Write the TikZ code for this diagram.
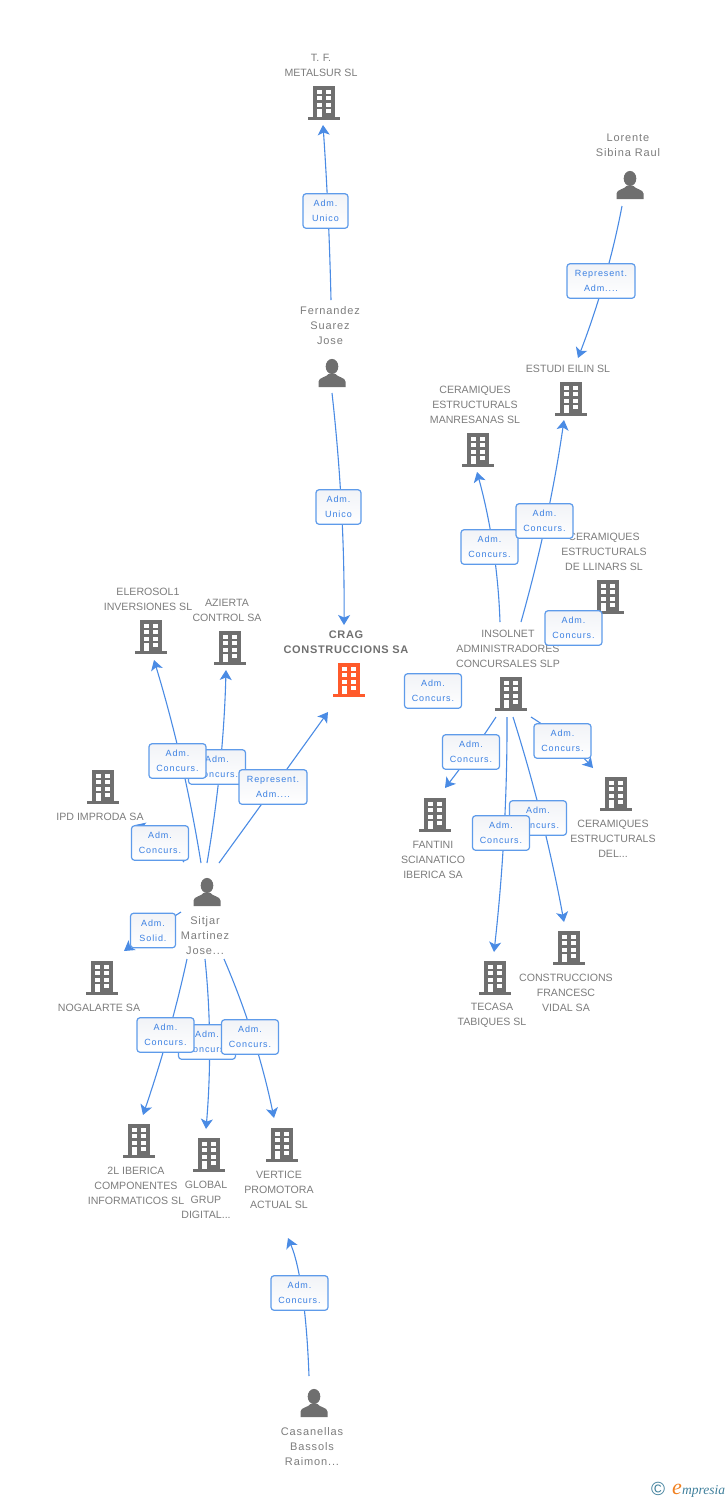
\documentclass[tikz,border=0pt]{standalone}
\usepackage{fontspec}
\setmainfont{Liberation Sans}
\newfontfamily\boxfont[LetterSpace=10]{Liberation Sans}
\newfontfamily\personfont[LetterSpace=8]{Liberation Sans}
\newfontfamily\boldfont[LetterSpace=6]{Liberation Sans Bold}
\newfontfamily\logofont{Liberation Serif Italic}
\usetikzlibrary{arrows.meta,calc}
\definecolor{linkblue}{HTML}{4A8BE4}
\definecolor{boxblue}{HTML}{5E9BEA}
\definecolor{boxtext}{HTML}{3B80E2}
\definecolor{namegray}{HTML}{7C7C7C}
\definecolor{icongray}{HTML}{6F6F6F}
\definecolor{mainorange}{HTML}{FF5A2B}
\definecolor{boxgrad}{HTML}{F1F3F7}
\definecolor{logoblue}{HTML}{3F7F9B}
\definecolor{logoorange}{HTML}{F08020}
\tikzset{
  entity/.style={inner sep=0pt,minimum width=30pt,minimum height=30pt},
  namelabel/.style={inner sep=0pt,yshift=-0.8pt,align=center,text=namegray,font=\fontsize{10.6}{15}\selectfont},
  personlabel/.style={inner sep=0pt,yshift=-0.8pt,align=center,text=namegray,font=\personfont\fontsize{11}{15}\selectfont},
  mainlabel/.style={inner sep=0pt,yshift=-0.5pt,align=center,text=namegray!90!black,font=\boldfont\fontsize{11}{15}\selectfont},
  rolebox/.style={draw=boxblue,line width=1.2pt,rounded corners=3pt,top color=boxgrad,bottom color=white,
    minimum height=34.5pt,inner sep=0pt,align=center,text=boxtext,font=\boxfont\fontsize{9}{15}\selectfont},
  link/.style={draw=linkblue,line width=1.1pt},
  linktip/.style={link,-{Stealth[length=10pt,width=12pt,inset=2.5pt]}},
}
% building icon
\newcommand{\bldg}[4]{%
  \node[entity] (#1) at (#2,#3) {};
  \begin{scope}[shift={(#2,#3)}]
    \fill[#4] (-11,-17) rectangle (11,14);
    \fill[#4] (-16,14) rectangle (16,17);
    \foreach \cx in {-7.5,2.2}{\foreach \cy in {-13.5,-7,-0.5}{\fill[white] (\cx,\cy) rectangle ++(5.2,4.2);}}
    \fill[white] (-7.5,6) rectangle ++(5.2,8);
    \fill[white] (2.2,6) rectangle ++(5.2,4.2);
  \end{scope}}
% person icon
\newcommand{\persona}[3]{%
  \node[entity] (#1) at (#2,#3) {};
  \begin{scope}[shift={(#2,#3)}]
    \fill[icongray] (0,-6.5) ellipse (6.3 and 7.6);
    \fill[icongray] (-13.5,14) -- (-13.5,8.5) .. controls (-13.5,4.5) and (-5,4) .. (-3.5,1) -- (3.5,1)
       .. controls (5,4) and (13.5,4.5) .. (13.5,8.5) -- (13.5,14) -- cycle;
  \end{scope}}
% connector: source node (offset), through a role box (offset), to target node (offset)
% a parabola through the point P = box + offset at its middle
\newcommand{\conn}[6]{%
  \draw[linktip] ($(#1)+(#2)$)
    .. controls ($1.3333*(#3)+1.3333*(#4)-0.3333*(#5)-0.3333*(#6)$)
    and ($1.3333*(#3)+1.3333*(#4)-0.3333*(#1)-0.3333*(#2)$) .. ($(#5)+(#6)$);}
\begin{document}
\begin{tikzpicture}[x=1pt,y=-1pt]
\useasboundingbox (0,0) rectangle (728,1500);
% buildings
\bldg{tf}{324}{103}{icongray}
\bldg{estudi}{571}{399}{icongray}
\bldg{manres}{478}{450}{icongray}
\bldg{llinars}{608}{597}{icongray}
\bldg{insol}{511}{694}{icongray}
\bldg{crag}{349}{680}{mainorange}
\bldg{elero}{151}{637}{icongray}
\bldg{azierta}{230}{648}{icongray}
\bldg{ipd}{103}{787}{icongray}
\bldg{fantini}{435}{815}{icongray}
\bldg{deltres}{616}{794}{icongray}
\bldg{tecasa}{495}{978}{icongray}
\bldg{constr}{569}{948}{icongray}
\bldg{noga}{102}{978}{icongray}
\bldg{ibe}{139}{1141}{icongray}
\bldg{glob}{209}{1155}{icongray}
\bldg{vert}{282}{1145}{icongray}
% persons
\persona{lorente}{630}{185}
\persona{fern}{332}{373}
\persona{sitjar}{207}{892}
\persona{casan}{314}{1403}
% names
\node[namelabel] (ltf) at (321,64.5) {T.\,\,F.\\METALSUR SL};
\node[personlabel] (llor) at (628,144.5) {Lorente\\Sibina Raul};
\node[personlabel] (lfern) at (330,325) {Fernandez\\Suarez\\Jose};
\node[namelabel] (lest) at (568,368) {ESTUDI EILIN SL};
\node[namelabel] (lman) at (475,404) {CERAMIQUES\\ESTRUCTURALS\\MANRESANAS SL};
\node[namelabel] (llin) at (604,551) {CERAMIQUES\\ESTRUCTURALS\\DE LLINARS SL};
\node[namelabel] (lins) at (508,648) {INSOLNET\\ADMINISTRADORES\\CONCURSALES SLP};
\node[mainlabel] (lcrag) at (346,641.5) {CRAG\\CONSTRUCCIONS SA};
\node[namelabel] (lele) at (148,598.5) {ELEROSOL1\\INVERSIONES SL};
\node[namelabel] (laz) at (227,609.5) {AZIERTA\\CONTROL SA};
\node[namelabel] (lipd) at (100,816) {IPD IMPRODA SA};
\node[namelabel] (lfan) at (433,859) {FANTINI\\SCIANATICO\\IBERICA SA};
\node[namelabel] (ldel) at (613,838) {CERAMIQUES\\ESTRUCTURALS\\DEL...};
\node[namelabel] (ltec) at (492,1014.5) {TECASA\\TABIQUES SL};
\node[namelabel] (lcon) at (566,992) {CONSTRUCCIONS\\FRANCESC\\VIDAL SA};
\node[personlabel] (lsit) at (205,935) {Sitjar\\Martinez\\Jose...};
\node[namelabel] (lnog) at (99,1007) {NOGALARTE SA};
\node[namelabel] (libe) at (136,1185) {2L IBERICA\\COMPONENTES\\INFORMATICOS SL};
\node[namelabel] (lglo) at (206,1199) {GLOBAL\\GRUP\\DIGITAL...};
\node[namelabel] (lver) at (279,1189) {VERTICE\\PROMOTORA\\ACTUAL SL};
\node[personlabel] (lcas) at (312,1446) {Casanellas\\Bassols\\Raimon...};
% role box centres
\foreach \n/\x/\y in {b1/325.5/211,b2/338.5/507,b3/601/281,b4/489.5/547,b5/544.5/521,b6/573.5/628,b7/433/691,
  b8/471/752,b9/562.5/741,b10/538/818,b11/501/833,b12/177.5/761,b13/217/767,b14/273/787,b15/160/843,b16/153/930.5,
  b17/165.5/1035,b18/207/1042,b19/250/1037,b20/299.5/1293}{\coordinate (\n) at (\x,\y);}
% connectors
\conn{fern}{-1,-73}{b1}{2.5,1}{tf}{-1,22}
\conn{fern}{0,20}{b2}{3,2}{crag}{-5,-55}
\conn{lorente}{-8,21}{b3}{3,0}{estudi}{7,-41}
\conn{insol}{-11,-72}{b4}{3.5,0}{manres}{-1,22}
\conn{insol}{10,-72}{b5}{1.5,0}{estudi}{-7,21}
\conn{insol}{-15,23}{b8}{1,0}{fantini}{10,-27}
\conn{insol}{20,23}{b9}{2,0}{deltres}{-23,-26}
\conn{insol}{-4,23}{b11}{3,0}{tecasa}{-1,-26}
\conn{insol}{2,23}{b10}{3.5,0}{constr}{-5,-26}
\conn{sitjar}{-6,-29}{b12}{3.5,0}{elero}{3,23}
\conn{sitjar}{0,-29}{b13}{3,0}{azierta}{-4,22}
\conn{sitjar}{12,-29}{b14}{1,0}{crag}{-21,32}
\conn{sitjar}{-23,-30}{b15}{-2,-5}{ipd}{32,38}
\conn{sitjar}{-26,20}{b16}{0,0}{noga}{22,-27}
\conn{sitjar}{-20,67}{b17}{2.5,0}{ibe}{4,-26}
\conn{sitjar}{-2,67}{b18}{2.5,0}{glob}{-3,-26}
\conn{sitjar}{17,67}{b19}{3,0}{vert}{-8,-27}
\conn{casan}{-5,-27}{b20}{2.5,0}{vert}{6,93}
% role boxes
\node[rolebox,minimum width=45pt] (r1) at (b1) {Adm.\\Unico};
\node[rolebox,minimum width=45pt] (r2) at (b2) {Adm.\\Unico};
\node[rolebox,minimum width=68pt] (r3) at (b3) {Represent.\\Adm....};
\node[rolebox,minimum width=57pt] (r4) at (b4) {Adm.\\Concurs.};
\node[rolebox,minimum width=57pt] (r5) at (b5) {Adm.\\Concurs.};
\node[rolebox,minimum width=57pt] (r6) at (b6) {Adm.\\Concurs.};
\node[rolebox,minimum width=57pt] (r7) at (b7) {Adm.\\Concurs.};
\node[rolebox,minimum width=57pt] (r8) at (b8) {Adm.\\Concurs.};
\node[rolebox,minimum width=57pt] (r9) at (b9) {Adm.\\Concurs.};
\node[rolebox,minimum width=57pt] (r10) at (b10) {Adm.\\Concurs.};
\node[rolebox,minimum width=57pt] (r11) at (b11) {Adm.\\Concurs.};
\node[rolebox,minimum width=57pt] (r13) at (b13) {Adm.\\Concurs.};
\node[rolebox,minimum width=57pt] (r12) at (b12) {Adm.\\Concurs.};
\node[rolebox,minimum width=68pt] (r14) at (b14) {Represent.\\Adm....};
\node[rolebox,minimum width=57pt] (r15) at (b15) {Adm.\\Concurs.};
\node[rolebox,minimum width=45pt] (r16) at (b16) {Adm.\\Solid.};
\node[rolebox,minimum width=57pt] (r18) at (b18) {Adm.\\Concurs.};
\node[rolebox,minimum width=57pt] (r17) at (b17) {Adm.\\Concurs.};
\node[rolebox,minimum width=57pt] (r19) at (b19) {Adm.\\Concurs.};
\node[rolebox,minimum width=57pt] (r20) at (b20) {Adm.\\Concurs.};
% logo
\node[inner sep=0pt,text=logoblue,font=\fontsize{19}{19}\selectfont] (copy) at (658,1489) {©};
\node[inner sep=0pt,anchor=base west,text=logoorange,font=\logofont\fontsize{22}{22}\selectfont] (loge) at (672,1494) {e};
\node[inner sep=0pt,anchor=base west,text=logoblue,font=\logofont\fontsize{13.5}{13.5}\selectfont] (logt) at (682,1494) {mpresia};
\end{tikzpicture}
\end{document}
